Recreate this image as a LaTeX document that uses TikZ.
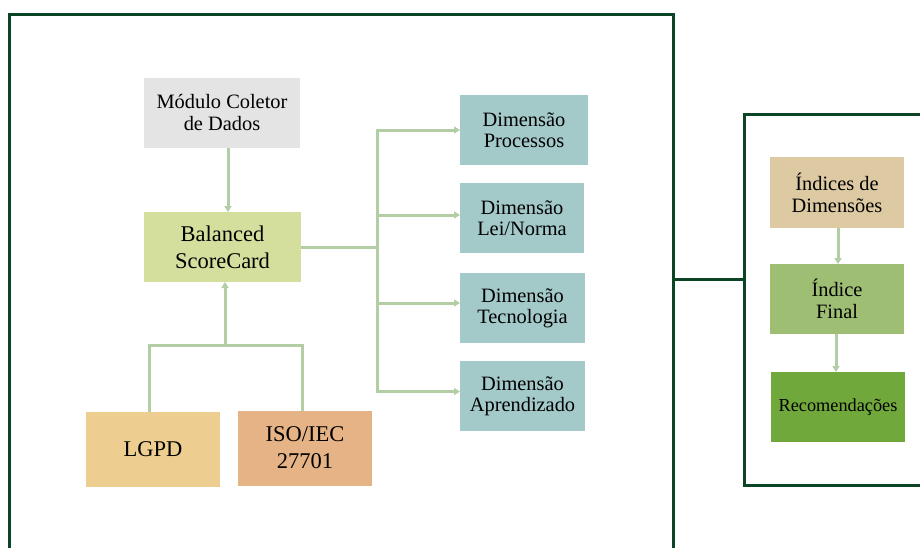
\documentclass[tikz,border=0pt]{standalone}
\usepackage{fontspec}
\setmainfont{Liberation Serif}
\usetikzlibrary{arrows.meta, positioning, calc}
\definecolor{framegreen}{HTML}{0C4525}
\definecolor{flowgreen}{HTML}{B3CEA4}
\definecolor{colgray}{HTML}{E4E4E4}
\definecolor{bscgreen}{HTML}{D4DF9E}
\definecolor{lgpdtan}{HTML}{EDCD90}
\definecolor{isoorange}{HTML}{E5B385}
\definecolor{dimteal}{HTML}{A3C9C9}
\definecolor{idxbeige}{HTML}{DDCAA3}
\definecolor{finalgreen}{HTML}{9DBE73}
\definecolor{recgreen}{HTML}{71A83B}

\begin{document}
\begin{tikzpicture}[
  x=1pt, y=-1pt,
  block/.style={
    rectangle, inner sep=0pt, outer sep=0pt,
    align=center, text=black,
    font=\fontsize{20.4}{22}\selectfont
  },
  bigblock/.style={block, font=\fontsize{22.5}{27}\selectfont},
  dimblock/.style={block, fill=dimteal, minimum height=70pt,
    font=\fontsize{20.4}{21}\selectfont},
  frame/.style={draw=framegreen, line width=3pt, inner sep=0pt, outer sep=0pt},
  frameline/.style={framegreen, line width=3pt},
  flow/.style={flowgreen, line width=3pt, -{Triangle[length=6pt,width=7pt]}},
  flowline/.style={flowgreen, line width=3pt}
]
  \useasboundingbox (0,0) rectangle (920,547);
  \clip (0,0) rectangle (920,547);

  % Outer frames
  \node[frame, anchor=north west, minimum width=664pt, minimum height=600pt]
    (leftbox) at (9,14) {};
  \node[frame, anchor=north west, minimum width=220pt, minimum height=371pt]
    (rightbox) at (744.5,114) {};
  \coordinate (link) at (0,279);
  \draw[frameline] (leftbox.north east |- link) -- (rightbox.north west |- link);

  % Left side blocks
  \node[block, fill=colgray, minimum width=156pt, minimum height=70pt]
    (coletor) at (222,112.5) {Módulo Coletor\\de Dados};
  \node[bigblock, fill=bscgreen, minimum width=157pt, minimum height=70pt]
    (bsc) at (222.5,247) {Balanced\\ScoreCard};
  \node[bigblock, fill=lgpdtan, minimum width=134pt, minimum height=75pt]
    (lgpd) at (153,449) {LGPD};
  \node[bigblock, fill=isoorange, minimum width=134pt, minimum height=75pt]
    (iso) at (305,448) {ISO/IEC\\27701};

  % Dimensions
  \node[dimblock, minimum width=128pt] (dproc) at (524,130) {Dimensão\\Processos};
  \node[dimblock, minimum width=124pt] (dlei) at (522,218) {Dimensão\\Lei/Norma};
  \node[dimblock, minimum width=125pt] (dtec) at (522.5,308) {Dimensão\\Tecnologia};
  \node[dimblock, minimum width=125pt] (dapr) at (522.5,396) {Dimensão\\Aprendizado};

  % Right side blocks
  \node[block, fill=idxbeige, minimum width=134pt, minimum height=71pt]
    (idxdim) at (837,192.5) {Índices de\\Dimensões};
  \node[block, fill=finalgreen, minimum width=134pt, minimum height=70pt]
    (idxfin) at (837,299) {Índice\\Final};
  \node[block, fill=recgreen, minimum width=134pt, minimum height=70pt,
    font=\fontsize{18.3}{20}\selectfont]
    (recom) at (838,407) {Recomendações};

  % Flows into the scorecard
  \draw[flow] (coletor.south -| 228,0) -- (bsc.north -| 228,0);
  \coordinate (join) at (225,345);
  \draw[flowline] (lgpd.north -| 149,0) |- (join);
  \draw[flowline] (iso.north -| 302,0) |- (join);
  \draw[flow] (join) -- (bsc.south -| join);

  % Bus to the dimensions
  \coordinate (bus) at (377,247);
  \draw[flowline] (bsc.east) -- (bus);
  \draw[flow] (bus) |- (dproc.west);
  \draw[flow] (bus) |- ([yshift=3pt]dlei.west);
  \draw[flow] (bus) |- ([yshift=5pt]dtec.west);
  \draw[flow] (bus) |- ([yshift=4.5pt]dapr.west);

  % Index chain
  \draw[flow] (idxdim.south -| 838,0) -- (idxfin.north -| 838,0);
  \draw[flow] (idxfin.south -| 836,0) -- (recom.north -| 836,0);
\end{tikzpicture}
\end{document}
